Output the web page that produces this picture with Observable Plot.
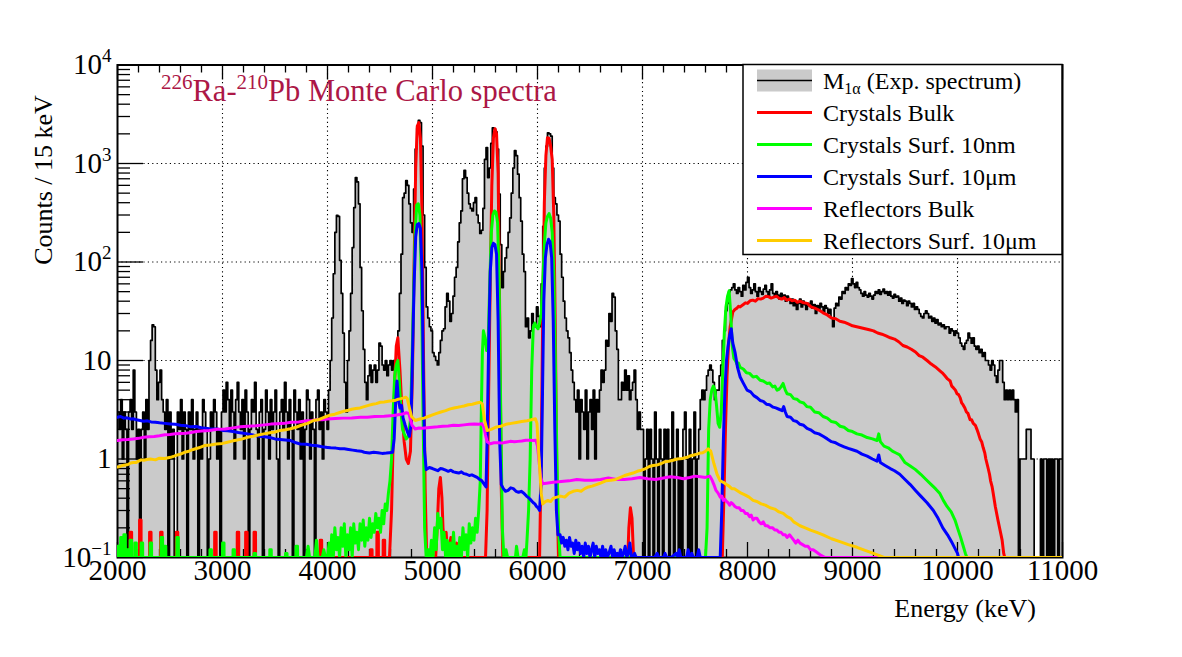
<!DOCTYPE html>
<html><head><meta charset="utf-8">
<script src="https://cdn.jsdelivr.net/npm/d3@7"></script>
<script src="https://cdn.jsdelivr.net/npm/@observablehq/plot@0.6"></script>
<style>html,body{margin:0;padding:0;background:#fff;} svg{display:block}</style>
</head><body><div id="chart"></div>
<script>
// ---------------- data ----------------
const binStart = 2000, binWidth = 15;
// experimental spectrum, counts per 15 keV bin, 2000-11000 keV (600 bins)
const expCounts = [
3,2,4,1,3,2,0,3,4,2,8,3,1,2,0,2,3,1,4,2,
10,16,23,22,8,4,6,8,4,3,
2,4,0,3,1,2,0,0,3,2,4,1,3,2,0,3,2,4,1,2,3,0,2,1,4,3,2,0,1,3,2,4,3,1,2,0,3,
5,3,6,4,2,5,3,1,4,6,3,2,4,1,5,3,0,2,4,3,6,2,1,3,4,0,2,5,3,1,4,2,3,5,1,0,3,4,2,6,3,1,4,2,0,5,3,2,4,1,3,0,2,5,4,1,3,2,0,4,5,2,3,1,4,3,2,
5,10,27,76,200,297,290,104,48,19,6,3,10,20,48,140,357,720,650,390,88,32,13,6,4,
7,9,6,8,9,6,8,15,14,
9,8,10,7,9,10,8,10,9,12,
20,48,120,450,500,670,600,390,250,200,
550,1400,2300,2750,2600,1500,300,88,35,27,
22,20,12,11,10,9,12,16,20,21,
35,48,40,25,30,45,70,88,160,250,
330,700,850,720,500,390,350,330,400,450,
300,250,195,210,350,1100,1450,720,900,1600,
2300,2250,2100,1400,490,150,55,80,110,140,
200,280,500,900,1350,1200,780,450,260,120,
80,22,27,17,20,30,24,22,35,28,
22,60,230,900,1500,2050,2000,1900,900,450,
390,300,260,120,70,40,27,20,17,12,8,6,4,
3,5,1,4,3,2,5,1,3,4,2,5,1,4,3,
5,8,6,8,16,14,30,25,48,44,20,13,4,4,6,5,8,5,7,4,5,6,8,4,2,3,2,
2,0,1,2,0,2,1,0,3,1,0,2,1,0,2,1,2,0,1,3,0,1,2,0,1,0,2,3,1,0,2,0,1,3,0,1,2,
4,5,4,5,7,8,
9,8,6,4,5,5,7,9,16,20,32,38,50,52,55,60,52,
48,55,50,45,58,52,62,70,55,48,
52,60,50,45,55,50,47,53,58,50,
45,52,60,48,44,50,46,42,48,44,
46,40,45,42,38,42,36,40,33,38,
42,35,40,37,33,38,36,40,34,37,
30,36,33,38,35,31,36,34,30,33,
27,22,34,38,36,44,42,50,48,55,
52,60,58,68,60,55,62,55,52,48,
45,50,46,44,48,45,42,46,50,48,
52,47,50,53,48,50,46,50,45,43,
47,44,45,40,43,38,41,40,36,40,
38,35,38,33,35,33,30,28,27,30,
32,30,27,28,25,27,24,26,23,24,
22,23,21,22,22,19,21,20,18,20,
19,17,15,14,13,15,16,19,17,15,
17,14,13,14,12,13,11,12,10,10,
9,8,10,9,7,6,8,10,10,6,
4,5,4,5,4,5,4,3,4,0,
1,1,1,1,2,2,2,1,1,0,
0,0,0,1,0,1,1,0,1,0,
1,0,1,1,0,1,1
];

// Monte Carlo spectra: [energy keV, counts/15 keV]
const redMain = [[2000,0.05],[4590,0.05],[4610,0.3],[4625,1.5],[4640,6],[4655,14],[4670,17],[4690,8],[4710,3],[4730,1.5],[4750,1.0],[4770,0.9],[4790,1.2],[4810,8],[4825,100],[4840,900],[4855,2400],[4870,2600],[4885,1800],[4900,300],[4915,10],[4930,0.5],[4945,0.05],[5030,0.05],[5045,0.2],[5060,0.5],[5075,0.65],[5090,0.4],[5100,0.2],[5115,0.12],[5130,0.18],[5145,0.1],[5175,0.16],[5190,0.08],[5230,0.14],[5245,0.05],[5505,0.05],[5520,0.3],[5535,5],[5550,60],[5565,600],[5580,1800],[5595,2250],[5610,2000],[5625,800],[5640,30],[5655,0.5],[5670,0.05],[6020,0.05],[6035,1],[6050,30],[6065,400],[6080,1200],[6095,1830],[6110,1800],[6125,1500],[6140,1100],[6155,300],[6170,20],[6185,0.5],[6200,0.05],[6860,0.05],[6870,0.2],[6885,0.32],[6900,0.25],[6915,0.05],[7760,0.05],[7775,0.4],[7790,2],[7805,7],[7820,15],[7835,22],[7860,31],[7880,33],[7900,34],[7915,35.5],[7930,35],[7960,37],[7980,38.5],[8000,38],[8025,40.5],[8050,41],[8075,40],[8100,42.5],[8125,42],[8150,43],[8175,45],[8200,44.5],[8225,43],[8250,44],[8275,45],[8300,43],[8325,42],[8350,43.5],[8375,41],[8400,42],[8425,40.5],[8450,41],[8475,39],[8500,40],[8535,38.5],[8570,38],[8605,35],[8640,34],[8680,32.5],[8720,30.5],[8760,29],[8800,27],[8840,26.5],[8880,25],[8920,24.5],[8960,23.5],[9000,22.5],[9040,22],[9080,21.5],[9120,21],[9160,20.5],[9200,20],[9240,19],[9280,18.5],[9320,17.8],[9360,17],[9400,16.5],[9440,15.5],[9480,14.2],[9520,13.7],[9560,13],[9600,12.2],[9635,11.2],[9670,10.8],[9710,10],[9750,9.2],[9790,8.6],[9830,7.9],[9855,7.5],[9880,7],[9905,6.5],[9930,6.2],[9945,5.5],[9960,5.3],[9980,5],[9995,4.6],[10010,4.5],[10025,4.2],[10040,3.7],[10050,3.6],[10070,3.3],[10085,3.0],[10100,2.9],[10120,2.5],[10135,2.5],[10150,2.3],[10170,2.2],[10185,2.0],[10200,1.8],[10215,1.6],[10230,1.5],[10245,1.3],[10260,1.15],[10270,1.0],[10290,0.82],[10305,0.7],[10315,0.6],[10330,0.52],[10340,0.45],[10360,0.33],[10385,0.24],[10405,0.19],[10425,0.15],[10440,0.11],[10450,0.05],[11000,0.05]];
const redSpikes = [[2120,0.18],[2210,0.24],[2305,0.18],[2410,0.18],[2560,0.18],[2925,0.18],[3140,0.18],[3220,0.18],[3300,0.18],[3930,0.15],[4410,0.12],[4470,0.18],[4530,0.15]];

const greenMain = [[2000,0.05],[3800,0.05],[3815,0.13],[3830,0.05],[3880,0.05],[3895,0.15],[3910,0.05],[3950,0.05],[3965,0.12],[3980,0.05],[4000,0.05],[4015,0.14],[4030,0.05],[4040,0.17],[4055,0.1],[4070,0.2],[4085,0.12],[4100,0.16],[4115,0.05],[4130,0.2],[4145,0.13],[4160,0.22],[4175,0.1],[4190,0.17],[4205,0.12],[4220,0.2],[4235,0.1],[4250,0.22],[4265,0.14],[4280,0.18],[4295,0.12],[4310,0.22],[4325,0.15],[4340,0.24],[4355,0.13],[4370,0.2],[4385,0.15],[4400,0.25],[4415,0.16],[4430,0.22],[4445,0.18],[4460,0.28],[4475,0.2],[4490,0.25],[4505,0.18],[4520,0.3],[4535,0.22],[4550,0.35],[4565,0.3],[4580,0.45],[4595,0.6],[4610,1.0],[4625,3],[4640,7],[4655,9],[4670,10],[4685,6],[4700,3],[4715,2],[4730,1.8],[4750,1.6],[4770,1.7],[4790,2.5],[4805,10],[4820,48],[4835,200],[4850,380],[4865,390],[4880,300],[4895,60],[4910,3],[4925,0.2],[4940,0.05],[4960,0.12],[4975,0.05],[4990,0.15],[5005,0.1],[5020,0.2],[5035,0.12],[5050,0.28],[5065,0.2],[5080,0.25],[5095,0.12],[5110,0.18],[5125,0.1],[5140,0.15],[5155,0.05],[5170,0.14],[5185,0.1],[5200,0.18],[5215,0.1],[5230,0.13],[5245,0.05],[5260,0.16],[5275,0.1],[5290,0.2],[5305,0.12],[5320,0.17],[5335,0.1],[5350,0.22],[5365,0.14],[5380,0.2],[5395,0.15],[5410,0.25],[5425,0.18],[5440,0.3],[5455,0.6],[5465,3],[5475,12],[5485,20],[5500,17],[5515,12.6],[5530,15],[5545,60],[5560,200],[5575,300],[5590,330],[5605,320],[5620,250],[5635,60],[5650,3],[5665,0.2],[5680,0.05],[5700,0.12],[5715,0.05],[5760,0.05],[5775,0.1],[5790,0.05],[5800,0.13],[5815,0.05],[5860,0.05],[5875,0.12],[5890,0.05],[5900,0.15],[5915,0.3],[5930,1],[5945,8],[5960,22],[5975,24],[5990,22],[6005,21],[6020,24],[6035,30],[6050,60],[6065,150],[6080,250],[6095,290],[6110,310],[6125,280],[6140,200],[6155,80],[6170,10],[6185,1],[6200,0.2],[6215,0.05],[7600,0.05],[7615,0.2],[7630,2],[7645,4],[7660,5],[7675,5.5],[7690,5],[7705,3.5],[7720,2.3],[7735,2.1],[7750,3],[7765,8],[7780,20],[7795,35],[7810,45],[7825,51],[7840,30],[7855,14],[7870,10.5],[7885,10],[7900,9.2],[7915,9.4],[7930,8.5],[7960,8.2],[7990,7.5],[8020,7.4],[8053,6.8],[8085,6.9],[8120,6.3],[8150,6.2],[8187,5.85],[8210,5.9],[8240,5.4],[8260,5.5],[8282,5.0],[8300,5.1],[8320,5.4],[8339,5.85],[8360,5.0],[8377,4.6],[8410,4.5],[8440,4.1],[8470,4.05],[8500,3.8],[8535,3.7],[8567,3.4],[8600,3.35],[8640,3.0],[8680,2.95],[8720,2.7],[8760,2.6],[8800,2.4],[8840,2.35],[8882,2.15],[8920,2.1],[8960,1.95],[9000,1.9],[9043,1.8],[9090,1.75],[9140,1.65],[9190,1.6],[9234,1.54],[9250,1.8],[9265,1.5],[9300,1.35],[9340,1.3],[9380,1.2],[9415,1.15],[9450,1.1],[9500,0.92],[9550,0.85],[9600,0.78],[9650,0.7],[9700,0.62],[9750,0.55],[9790,0.5],[9830,0.45],[9865,0.38],[9900,0.33],[9940,0.29],[9976,0.24],[10000,0.2],[10030,0.16],[10055,0.13],[10075,0.11],[10090,0.05],[11000,0.05]];
const greenSpikes = [[2000,0.13],[2030,0.16],[2060,0.17],[2090,0.12],[2120,0.15],[2165,0.14],[2225,0.14],[2310,0.14],[2415,0.16],[2445,0.13],[2565,0.16],[2880,0.12],[3000,0.14],[3100,0.12],[3300,0.11],[3450,0.12],[3600,0.11],[3700,0.13]];

const blueMain = [[2000,2.65],[2030,2.7],[2060,2.6],[2090,2.62],[2120,2.55],[2150,2.56],[2180,2.5],[2215,2.46],[2250,2.42],[2285,2.44],[2320,2.38],[2360,2.36],[2400,2.33],[2450,2.3],[2505,2.27],[2550,2.25],[2600,2.2],[2650,2.18],[2700,2.12],[2750,2.14],[2800,2.08],[2875,2.03],[2950,2.02],[3000,1.95],[3050,1.93],[3100,1.9],[3150,1.86],[3200,1.83],[3240,1.8],[3300,1.74],[3350,1.7],[3400,1.68],[3450,1.65],[3500,1.6],[3550,1.58],[3600,1.56],[3650,1.54],[3700,1.46],[3740,1.42],[3800,1.41],[3850,1.38],[3900,1.36],[3950,1.33],[4000,1.31],[4030,1.3],[4080,1.29],[4120,1.27],[4160,1.27],[4200,1.25],[4240,1.23],[4280,1.21],[4320,1.2],[4350,1.17],[4380,1.16],[4400,1.15],[4440,1.17],[4480,1.16],[4520,1.14],[4560,1.15],[4590,1.16],[4620,1.17],[4635,1.6],[4650,4],[4662,6.2],[4675,4],[4690,3.3],[4705,3.5],[4720,2.6],[4740,2.2],[4760,1.9],[4780,1.7],[4795,2.2],[4810,12],[4825,60],[4840,180],[4855,240],[4870,245],[4885,220],[4900,80],[4912,8],[4925,1.2],[4940,0.78],[4970,0.82],[5000,0.8],[5025,0.78],[5050,0.76],[5075,0.8],[5100,0.79],[5125,0.77],[5150,0.75],[5175,0.77],[5200,0.74],[5225,0.73],[5250,0.72],[5275,0.74],[5300,0.71],[5325,0.7],[5350,0.68],[5375,0.69],[5400,0.67],[5425,0.65],[5450,0.62],[5470,0.6],[5490,0.56],[5510,0.52],[5522,2],[5535,15],[5550,80],[5565,140],[5580,155],[5595,150],[5610,120],[5625,25],[5640,1.5],[5655,0.55],[5675,0.5],[5695,0.47],[5720,0.48],[5745,0.51],[5770,0.5],[5795,0.47],[5820,0.46],[5845,0.47],[5870,0.45],[5895,0.42],[5920,0.4],[5940,0.38],[5960,0.36],[5975,0.35],[5990,0.33],[6005,0.32],[6020,0.3],[6035,0.6],[6048,5],[6060,40],[6075,110],[6090,150],[6105,170],[6120,160],[6135,110],[6150,25],[6165,2],[6180,0.3],[6195,0.17],[6215,0.17],[6230,0.14],[6245,0.16],[6260,0.13],[6275,0.15],[6290,0.12],[6305,0.16],[6320,0.13],[6335,0.14],[6350,0.11],[6365,0.15],[6380,0.12],[6395,0.14],[6410,0.11],[6425,0.13],[6440,0.1],[6455,0.14],[6470,0.11],[6485,0.13],[6500,0.1],[6515,0.12],[6530,0.14],[6545,0.1],[6560,0.13],[6575,0.11],[6590,0.12],[6605,0.09],[6620,0.13],[6635,0.1],[6650,0.12],[6665,0.09],[6680,0.11],[6700,0.13],[6715,0.09],[6730,0.12],[6745,0.1],[6760,0.11],[6775,0.08],[6790,0.12],[6805,0.1],[6820,0.11],[6835,0.13],[6850,0.09],[6865,0.11],[6880,0.14],[6895,0.1],[6910,0.08],[6925,0.11],[6940,0.09],[6960,0.05],[7000,0.1],[7015,0.05],[7060,0.09],[7075,0.05],[7100,0.1],[7115,0.06],[7140,0.11],[7155,0.05],[7200,0.1],[7215,0.11],[7230,0.06],[7260,0.1],[7275,0.05],[7320,0.11],[7335,0.08],[7350,0.12],[7365,0.09],[7380,0.05],[7420,0.1],[7435,0.12],[7450,0.08],[7470,0.11],[7485,0.05],[7520,0.1],[7535,0.12],[7550,0.08],[7570,0.1],[7590,0.05],[7640,0.05],[7660,0.1],[7675,0.05],[7740,0.05],[7755,0.3],[7770,1.5],[7785,5],[7800,10],[7815,14],[7830,18],[7845,21],[7860,15],[7882,12],[7905,8.5],[7930,6.8],[7960,5.9],[7996,5.0],[8030,4.8],[8060,4.4],[8090,4.2],[8120,3.93],[8150,3.85],[8180,3.6],[8210,3.55],[8244,3.36],[8270,3.3],[8300,3.2],[8330,3.1],[8345,3.4],[8360,3.0],[8377,2.7],[8410,2.65],[8440,2.45],[8470,2.4],[8500,2.25],[8535,2.2],[8567,2.05],[8600,1.98],[8640,1.85],[8680,1.8],[8720,1.7],[8760,1.6],[8800,1.5],[8840,1.46],[8882,1.38],[8920,1.33],[8960,1.28],[9000,1.24],[9043,1.2],[9090,1.12],[9140,1.07],[9190,1.0],[9234,0.95],[9250,1.1],[9265,0.92],[9310,0.86],[9360,0.8],[9400,0.76],[9450,0.7],[9500,0.62],[9550,0.55],[9600,0.48],[9650,0.42],[9710,0.36],[9770,0.3],[9815,0.25],[9860,0.2],[9905,0.17],[9950,0.14],[10000,0.11],[10010,0.05],[11000,0.05]];

const magentaMain = [[2000,1.54],[2050,1.57],[2100,1.58],[2150,1.6],[2200,1.62],[2250,1.66],[2300,1.68],[2350,1.69],[2400,1.72],[2450,1.76],[2500,1.77],[2550,1.8],[2600,1.82],[2650,1.83],[2700,1.86],[2750,1.9],[2800,1.92],[2875,1.95],[2950,2.0],[3025,2.02],[3100,2.07],[3170,2.12],[3240,2.15],[3320,2.17],[3400,2.22],[3460,2.26],[3520,2.28],[3590,2.3],[3650,2.36],[3725,2.38],[3800,2.44],[3850,2.46],[3900,2.5],[3950,2.5],[4000,2.55],[4075,2.58],[4150,2.6],[4230,2.61],[4313,2.65],[4380,2.66],[4450,2.7],[4540,2.72],[4627,2.76],[4660,2.8],[4700,2.85],[4725,2.88],[4750,2.95],[4775,2.9],[4790,2.5],[4805,2.2],[4835,2.02],[4870,2.06],[4900,2.05],[4950,2.08],[5000,2.1],[5050,2.12],[5100,2.15],[5150,2.16],[5200,2.2],[5250,2.19],[5300,2.22],[5350,2.25],[5400,2.26],[5440,2.25],[5470,2.28],[5490,2.1],[5505,1.75],[5520,1.5],[5550,1.43],[5585,1.46],[5620,1.46],[5660,1.45],[5700,1.48],[5740,1.51],[5780,1.5],[5815,1.51],[5850,1.52],[5890,1.55],[5930,1.55],[5960,1.54],[5985,1.55],[6000,1.35],[6015,0.95],[6030,0.65],[6050,0.56],[6100,0.57],[6150,0.58],[6225,0.59],[6300,0.6],[6375,0.62],[6450,0.61],[6525,0.61],[6600,0.62],[6675,0.64],[6750,0.62],[6825,0.62],[6900,0.63],[6975,0.65],[7050,0.63],[7125,0.62],[7200,0.64],[7265,0.66],[7330,0.65],[7390,0.63],[7450,0.65],[7500,0.67],[7550,0.66],[7600,0.65],[7640,0.67],[7660,0.62],[7680,0.55],[7700,0.48],[7720,0.45],[7740,0.41],[7755,0.42],[7770,0.38],[7785,0.39],[7800,0.37],[7815,0.36],[7830,0.34],[7845,0.36],[7860,0.35],[7880,0.33],[7900,0.32],[7920,0.32],[7940,0.3],[7960,0.3],[7980,0.28],[8000,0.28],[8020,0.26],[8035,0.27],[8053,0.24],[8070,0.25],[8090,0.25],[8110,0.23],[8130,0.22],[8150,0.23],[8170,0.21],[8190,0.21],[8215,0.2],[8240,0.2],[8260,0.19],[8280,0.19],[8300,0.18],[8320,0.18],[8340,0.17],[8360,0.17],[8377,0.16],[8400,0.17],[8420,0.16],[8440,0.15],[8460,0.14],[8480,0.15],[8500,0.14],[8525,0.135],[8550,0.13],[8575,0.13],[8600,0.12],[8625,0.12],[8650,0.115],[8675,0.11],[8700,0.105],[8740,0.1],[8750,0.05],[11000,0.05]];

const yellowMain = [[2000,0.83],[2025,0.84],[2050,0.86],[2075,0.87],[2100,0.88],[2125,0.91],[2150,0.92],[2175,0.92],[2200,0.95],[2225,0.98],[2250,0.97],[2280,0.99],[2314,1.0],[2360,0.98],[2400,1.02],[2450,1.01],[2505,1.04],[2540,1.07],[2570,1.1],[2600,1.12],[2638,1.17],[2680,1.2],[2720,1.25],[2775,1.3],[2828,1.37],[2885,1.39],[2940,1.42],[3000,1.44],[3047,1.48],[3090,1.52],[3140,1.56],[3190,1.6],[3237,1.66],[3290,1.7],[3340,1.75],[3395,1.8],[3450,1.85],[3500,1.88],[3550,1.95],[3600,1.98],[3647,2.03],[3700,2.1],[3750,2.2],[3810,2.3],[3866,2.46],[3910,2.5],[3950,2.6],[3990,2.7],[4030,2.8],[4070,2.85],[4110,2.95],[4150,3.05],[4189,3.1],[4230,3.2],[4270,3.25],[4310,3.3],[4350,3.4],[4390,3.5],[4430,3.6],[4465,3.65],[4503,3.77],[4540,3.8],[4580,3.85],[4615,3.9],[4650,3.95],[4675,4.05],[4700,4.1],[4720,4.15],[4745,4.24],[4760,4.1],[4780,3.3],[4800,2.7],[4835,2.46],[4880,2.55],[4920,2.6],[4960,2.7],[5000,2.8],[5040,2.9],[5080,3.0],[5125,3.1],[5169,3.23],[5205,3.3],[5240,3.35],[5270,3.4],[5300,3.45],[5340,3.55],[5380,3.6],[5420,3.7],[5455,3.77],[5475,3.6],[5495,2.5],[5520,1.95],[5560,2.0],[5600,2.1],[5650,2.15],[5700,2.25],[5750,2.3],[5800,2.35],[5850,2.4],[5900,2.45],[5940,2.5],[5980,2.56],[5995,2.3],[6015,1.0],[6035,0.45],[6050,0.35],[6075,0.37],[6100,0.38],[6125,0.37],[6150,0.4],[6185,0.41],[6220,0.42],[6260,0.41],[6300,0.45],[6340,0.47],[6380,0.48],[6415,0.47],[6450,0.5],[6485,0.52],[6520,0.53],[6560,0.55],[6600,0.57],[6650,0.6],[6700,0.61],[6745,0.62],[6790,0.65],[6830,0.68],[6870,0.7],[6910,0.72],[6950,0.75],[6990,0.77],[7030,0.8],[7065,0.84],[7100,0.86],[7140,0.87],[7180,0.9],[7215,0.94],[7250,0.95],[7290,0.97],[7330,1.0],[7380,1.01],[7425,1.04],[7460,1.08],[7490,1.1],[7520,1.12],[7550,1.15],[7575,1.16],[7600,1.2],[7625,1.27],[7650,1.2],[7680,0.9],[7710,0.7],[7740,0.6],[7770,0.58],[7800,0.55],[7825,0.53],[7850,0.5],[7875,0.5],[7900,0.48],[7940,0.45],[7980,0.43],[8015,0.41],[8053,0.38],[8090,0.37],[8130,0.35],[8170,0.34],[8215,0.32],[8260,0.31],[8300,0.29],[8340,0.28],[8377,0.26],[8410,0.25],[8440,0.23],[8470,0.22],[8500,0.21],[8550,0.2],[8600,0.19],[8660,0.18],[8720,0.17],[8800,0.155],[8880,0.145],[8960,0.135],[9043,0.127],[9120,0.118],[9200,0.11],[9250,0.105],[9300,0.1],[9320,0.05],[11000,0.05]];

const xTickValues = [2000,3000,4000,5000,6000,7000,8000,9000,10000,11000];
const yTickValues = [0.1,1,10,100,1000,10000];
const yTickLabels = ["10^\u22121","1","10","10^2","10^3","10^4"];
const legendLabels = ["M|1\u03b1| (Exp. spectrum)","Crystals Bulk","Crystals Surf. 10nm","Crystals Surf. 10\u03bcm","Reflectors Bulk","Reflectors Surf. 10\u03bcm"];
const seriesColors = ["#ff0000","#00ff00","#0000ff","#ff00ff","#ffcc00"];
const titleParts = [["226",true],["Ra-",false],["210",true],["Pb Monte Carlo spectra",false]];

// ---------------- build ----------------
const SERIF = "'Liberation Serif','DejaVu Serif',serif";
const W = 1182, H = 657, mL = 117, mR = 120, mT = 64.5, mB = 100;
const frameH = H - mT - mB, frameW = W - mL - mR;
const YMIN = 0.1, YMAX = 10000;

const expPts = expCounts.map((c, i) => ({x: binStart + i * binWidth, v: Math.max(c, YMIN)}));
expPts.push({x: binStart + expCounts.length * binWidth, v: expPts[expPts.length - 1].v});

function series(main, spikes = []) {
  const pts = main.map(([e, v]) => ({e, v}));
  for (const [e, h] of spikes) pts.push({e, v: 0.05}, {e: e + 0.5, v: h}, {e: e + 14.5, v: h}, {e: e + 15, v: 0.05});
  pts.sort((a, b) => a.e - b.e);
  return pts;
}
const mc = [series(redMain, redSpikes), series(greenMain, greenSpikes), series(blueMain), series(magentaMain), series(yellowMain)];

const xMinor = d3.range(2000, 11001, 200).filter(d => d % 1000 !== 0);
const yMinor = [];
for (const dec of [0.1, 1, 10, 100, 1000]) for (let k = 2; k <= 9; k++) yMinor.push(dec * k);
const xGrid = xTickValues.slice(1, -1);
const yGrid = yTickValues.slice(1, -1);

const marks = [
  Plot.ruleX(xGrid, {x: d => d, stroke: "black", strokeWidth: 1.1, strokeDasharray: "1.2,3.2"}),
  Plot.ruleY(yGrid, {y: d => d, stroke: "black", strokeWidth: 1.1, strokeDasharray: "1.2,3.2"}),
  Plot.areaY(expPts, {x: "x", y1: () => YMIN, y2: "v", curve: "step-after", fill: "#cacaca", clip: true}),
  Plot.line(expPts, {x: "x", y: "v", curve: "step-after", stroke: "black", strokeWidth: 1.7, clip: true}),
  Plot.frame({stroke: "black", strokeWidth: 2}),
  Plot.ruleX(xTickValues, {x: d => d, insetTop: frameH - 15, stroke: "black", strokeWidth: 1.3}),
  Plot.ruleX(xMinor, {x: d => d, insetTop: frameH - 8, stroke: "black", strokeWidth: 1.3}),
  Plot.ruleX(xTickValues, {x: d => d, insetBottom: frameH - 15, stroke: "black", strokeWidth: 1.3}),
  Plot.ruleX(xMinor, {x: d => d, insetBottom: frameH - 8, stroke: "black", strokeWidth: 1.3}),
  Plot.ruleY(yTickValues, {y: d => d, insetRight: frameW - 26, stroke: "black", strokeWidth: 1.3}),
  Plot.ruleY(yMinor, {y: d => d, insetRight: frameW - 13, stroke: "black", strokeWidth: 1.3}),
  ...mc.map((pts, i) => Plot.line(pts, {x: "e", y: d => Math.max(d.v, YMIN), stroke: seriesColors[i], strokeWidth: 3, strokeLinejoin: "round", clip: true})),
  Plot.text(xTickValues, {x: d => d, text: d => String(d), frameAnchor: "bottom", dy: 22, fontSize: 29, fontFamily: SERIF}),
  Plot.text(yTickValues, {y: d => d, text: (d, i) => yTickLabels[i], frameAnchor: "left", dx: -6, textAnchor: "end", fontSize: 29, fontFamily: SERIF})
];

const svg = Plot.plot({
  width: W, height: H,
  marginLeft: mL, marginRight: mR, marginTop: mT, marginBottom: mB,
  x: {domain: [2000, 11000], axis: null},
  y: {type: "log", domain: [YMIN, YMAX], axis: null},
  style: {background: "white", fontFamily: SERIF},
  marks
});

const s = d3.select(svg);
// superscripts in y tick labels
s.selectAll("text").each(function() {
  const t = this.textContent;
  if (t.includes("^")) {
    const [b, e] = t.split("^");
    this.textContent = b;
    d3.select(this).append("tspan").attr("dy", "-12").attr("font-size", "19").text(e);
  }
});

// title
const title = s.append("text").attr("x", 161).attr("y", 101).attr("text-anchor", "start").attr("font-family", SERIF).attr("font-size", 30.5).attr("fill", "#ac1746");
let up = false;
for (const [txt, sup] of titleParts) {
  const ts = title.append("tspan").text(txt);
  if (sup && !up) { ts.attr("dy", -12).attr("font-size", 21); up = true; }
  else if (sup) { ts.attr("font-size", 21); }
  else if (up) { ts.attr("dy", 12); up = false; }
}

// axis titles
s.append("text").attr("x", 1036).attr("y", 617).attr("text-anchor", "end").attr("font-family", SERIF).attr("font-size", 26).text("Energy (keV)");
s.append("text").attr("transform", "translate(52,180) rotate(-90)").attr("text-anchor", "middle").attr("font-family", SERIF).attr("font-size", 26).text("Counts / 15 keV");

// legend
const lg = s.append("g");
lg.append("rect").attr("x", 743).attr("y", 64.5).attr("width", 319).attr("height", 190).attr("fill", "white").attr("stroke", "black").attr("stroke-width", 1.5);
legendLabels.forEach((lab, i) => {
  const cy = 80.5 + i * 32;
  if (i === 0) {
    lg.append("rect").attr("x", 757).attr("y", cy - 11).attr("width", 55).attr("height", 22).attr("fill", "#cacaca");
    lg.append("line").attr("x1", 757).attr("x2", 812).attr("y1", cy).attr("y2", cy).attr("stroke", "black").attr("stroke-width", 1.5);
  } else {
    lg.append("line").attr("x1", 757).attr("x2", 812).attr("y1", cy).attr("y2", cy).attr("stroke", seriesColors[i - 1]).attr("stroke-width", 3);
  }
  const t = lg.append("text").attr("x", 823).attr("y", cy + 8).attr("text-anchor", "start").attr("font-family", SERIF).attr("font-size", 24);
  const parts = lab.split("|");
  if (parts.length === 3) {
    t.append("tspan").text(parts[0]);
    t.append("tspan").attr("dy", 5).attr("font-size", 16).text(parts[1]);
    t.append("tspan").attr("dy", -5).text(parts[2]);
  } else t.text(lab);
});

document.getElementById("chart").appendChild(svg);
</script></body></html>
